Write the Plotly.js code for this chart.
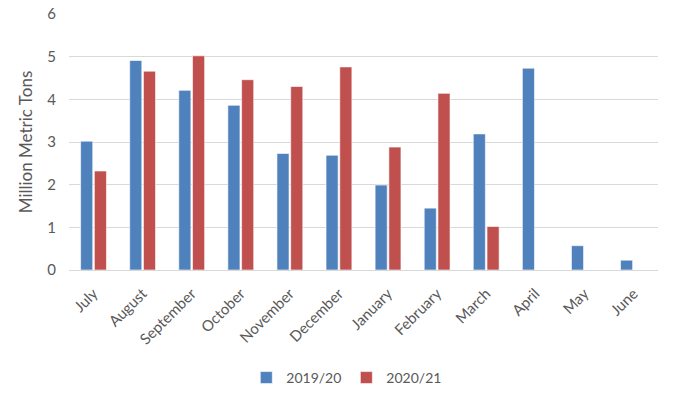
<!DOCTYPE html>
<html>
<head>
<meta charset="utf-8">
<script src="https://cdn.plot.ly/plotly-3.0.1.min.js"></script>
<style>html,body{margin:0;padding:0;background:#fff;}#chart{width:680px;height:400px;}</style>
</head>
<body>
<div id="chart"></div>
<script>
const months = ["July","August","September","October","November","December","January","February","March","April","May","June"];
const season1Name = "2019/20";
const season2Name = "2020/21";
const season1 = [3.02, 4.91, 4.21, 3.86, 2.73, 2.69, 1.99, 1.45, 3.19, 4.73, 0.57, 0.23];
const season2 = [2.32, 4.66, 5.02, 4.46, 4.30, 4.76, 2.88, 4.14, 1.02, null, null, null];
const yTicks = [0, 1, 2, 3, 4, 5, 6];

const font = {family: "Lato, 'Open Sans', sans-serif", size: 14, color: "#595959"};

const traces = [
  {type: "bar", name: season1Name, x: months, y: season1,
   marker: {color: "#4F81BD", line: {color: "rgba(255,255,255,0.6)", width: 1}}},
  {type: "bar", name: season2Name, x: months, y: season2,
   marker: {color: "#C0504D", line: {color: "rgba(255,255,255,0.6)", width: 1}}}
];

const layout = {
  width: 680, height: 400,
  margin: {l: 69, r: 22, t: 14, b: 130},
  paper_bgcolor: "#fff", plot_bgcolor: "#fff",
  font: font,
  barmode: "group",
  bargap: 0.44,
  bargroupgap: 0.12,
  showlegend: true,
  legend: {orientation: "h", xref: "container", yref: "container",
           x: 0.51, xanchor: "center", y: 0.055, yanchor: "middle",
           font: {family: font.family, size: 14, color: "#595959"}, traceorder: "normal"},
  xaxis: {tickangle: -45, showgrid: false, showline: true, linecolor: "#d9d9d9", linewidth: 1,
          ticks: "", tickfont: {size: 15, color: "#595959"}, ticklabelstandoff: 8,
          automargin: false, fixedrange: true},
  yaxis: {range: [0, 6], tickvals: yTicks, showgrid: true, gridcolor: "#d9d9d9", gridwidth: 1,
          zeroline: false, showline: false, ticks: "", ticklen: 0,
          tickfont: {size: 15, color: "#595959"}, ticklabelstandoff: 12, automargin: false,
          title: {text: "Million Metric Tons", font: {size: 17, color: "#595959"}, standoff: 10},
          fixedrange: true}
};

Plotly.newPlot("chart", traces, layout, {displayModeBar: false, staticPlot: true});
</script>
</body>
</html>
